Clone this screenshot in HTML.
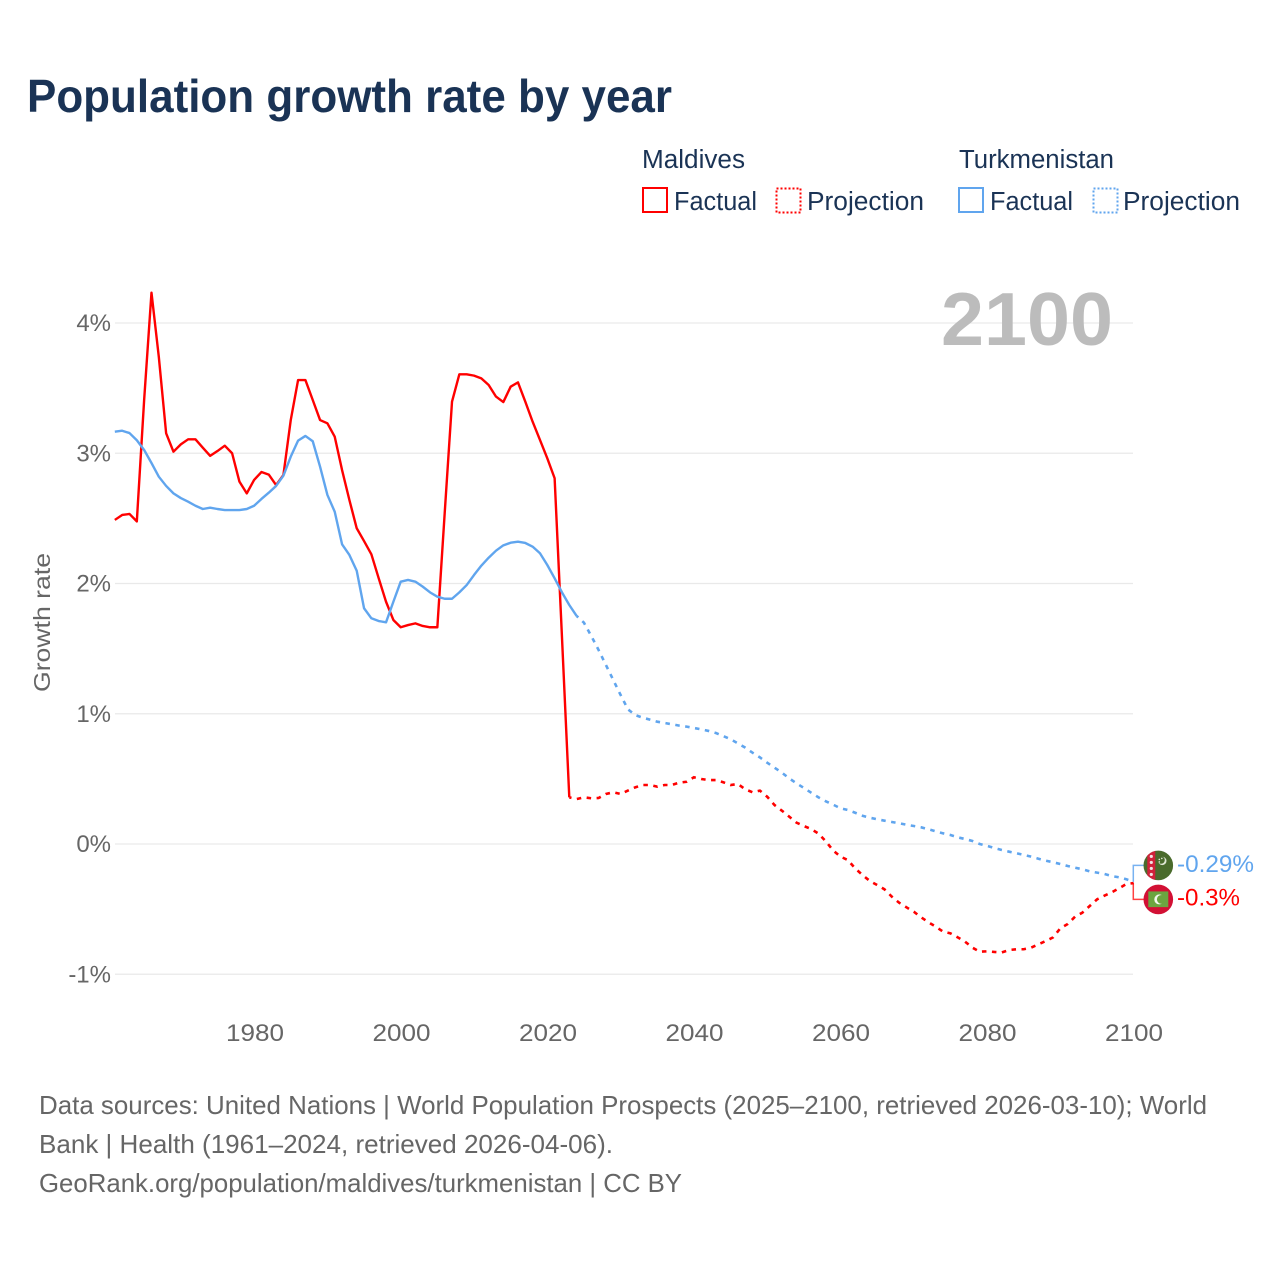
<!DOCTYPE html>
<html lang="en">
<head>
<meta charset="utf-8">
<title>Population growth rate by year</title>
<style>
html,body{margin:0;padding:0;background:#fff;width:1280px;height:1280px;overflow:hidden}
svg{display:block}
text{font-family:"Liberation Sans",sans-serif}
</style>
</head>
<body>
<svg id="chart" xmlns="http://www.w3.org/2000/svg" width="1280" height="1280" viewBox="0 0 1280 1280">
  <rect width="1280" height="1280" fill="#fff"/>
  <text x="27" y="112" font-size="46" font-weight="700" fill="#1a3355" textLength="645" lengthAdjust="spacingAndGlyphs">Population growth rate by year</text>

  <g font-size="25.5" fill="#1a3355">
    <text x="642" y="168" textLength="103" lengthAdjust="spacingAndGlyphs">Maldives</text>
    <text x="959" y="168" textLength="155" lengthAdjust="spacingAndGlyphs">Turkmenistan</text>
    <rect x="643" y="188" width="24" height="24" fill="none" stroke="#ff0000" stroke-width="2"/>
    <text x="674" y="210" textLength="83" lengthAdjust="spacingAndGlyphs">Factual</text>
    <rect x="776.5" y="188.5" width="24" height="24" fill="none" stroke="#ff0000" stroke-width="2" stroke-dasharray="2 2"/>
    <text x="807" y="210" textLength="117" lengthAdjust="spacingAndGlyphs">Projection</text>
    <rect x="959" y="188" width="24" height="24" fill="none" stroke="#60a5ee" stroke-width="2"/>
    <text x="990" y="210" textLength="83" lengthAdjust="spacingAndGlyphs">Factual</text>
    <rect x="1093.5" y="188.5" width="24" height="24" fill="none" stroke="#60a5ee" stroke-width="2" stroke-dasharray="2 2"/>
    <text x="1123" y="210" textLength="117" lengthAdjust="spacingAndGlyphs">Projection</text>
  </g>

  <g id="grid"></g>
  <text x="941" y="345" font-size="75" font-weight="700" fill="#bcbcbc" textLength="172" lengthAdjust="spacingAndGlyphs">2100</text>
  <g id="yticks" font-size="24" fill="#666"></g>
  <g id="xticks" font-size="24" fill="#666"></g>
  <text transform="translate(50,622.5) rotate(-90)" text-anchor="middle" font-size="23.5" fill="#666" textLength="139" lengthAdjust="spacingAndGlyphs">Growth rate</text>

  <g id="series"></g>
  <g id="connectors"></g>

  <g id="flag-tm">
    <defs><clipPath id="clip-tm"><circle cx="0" cy="0" r="14.8"/></clipPath></defs>
    <g clip-path="url(#clip-tm)">
      <rect x="-15" y="-15" width="30" height="30" fill="#4a6b2c"/>
      <rect x="-11" y="-15" width="8" height="30" fill="#d0213a"/>
      <circle cx="-7" cy="-9" r="1.6" fill="#f3e3e3"/>
      <circle cx="-7" cy="-3" r="1.6" fill="#f3e3e3"/>
      <circle cx="-7" cy="3" r="1.6" fill="#f3e3e3"/>
      <circle cx="-7" cy="9" r="1.6" fill="#f3e3e3"/>
    </g>
    <circle cx="4" cy="-4.5" r="4.2" fill="#dfe6d4"/>
    <circle cx="2.8" cy="-5.4" r="3.7" fill="#4a6b2c"/>
    <circle cx="1" cy="-6" r="0.8" fill="#e6ecdc"/>
    <circle cx="3.5" cy="-7" r="0.8" fill="#e6ecdc"/>
    <circle cx="1" cy="-3.5" r="0.8" fill="#e6ecdc"/>
  </g>
  <g id="flag-mv">
    <circle cx="0" cy="0" r="14.8" fill="#d21034"/>
    <rect x="-10" y="-8" width="20" height="15.7" fill="#6ca540"/>
    <circle cx="1" cy="0" r="5" fill="#f4f8ee"/>
    <circle cx="3" cy="0" r="4.4" fill="#6ca540"/>
  </g>
  <text id="label-tm" x="1177" font-size="24" fill="#60a5ee" textLength="77" lengthAdjust="spacingAndGlyphs"></text>
  <text id="label-mv" x="1177" font-size="24" fill="#ff0000" textLength="63" lengthAdjust="spacingAndGlyphs"></text>

  <g font-size="26" fill="#666">
    <text x="39" y="1114" textLength="1168" lengthAdjust="spacingAndGlyphs">Data sources: United Nations | World Population Prospects (2025–2100, retrieved 2026-03-10); World</text>
    <text x="39" y="1153" textLength="574" lengthAdjust="spacingAndGlyphs">Bank | Health (1961–2024, retrieved 2026-04-06).</text>
    <text x="39" y="1192" textLength="643" lengthAdjust="spacingAndGlyphs">GeoRank.org/population/maldives/turkmenistan | CC BY</text>
  </g>
</svg>

<script>
const factualStartYear = 1961;
const maldivesProjectionStartYear = 2023;
const turkmenistanProjectionStartYear = 2024;
const xTickYears = [1980, 2000, 2020, 2040, 2060, 2080, 2100];
const yTickValues = [-1, 0, 1, 2, 3, 4];
const maldivesFactual = [2.488,2.526,2.534,2.477,3.41,4.233,3.74,3.153,3.012,3.068,3.107,3.107,3.043,2.98,3.017,3.058,3.0,2.782,2.692,2.795,2.856,2.836,2.756,2.833,3.255,3.562,3.562,3.409,3.255,3.23,3.127,2.871,2.641,2.424,2.326,2.224,2.04,1.86,1.72,1.664,1.681,1.694,1.674,1.664,1.664,2.539,3.396,3.606,3.606,3.596,3.575,3.524,3.435,3.393,3.511,3.544,3.396,3.242,3.102,2.961,2.808,1.59,0.358];
const maldivesProjection = [0.358,0.345,0.358,0.351,0.353,0.384,0.397,0.384,0.41,0.435,0.453,0.453,0.44,0.453,0.453,0.471,0.478,0.512,0.499,0.491,0.491,0.474,0.453,0.461,0.42,0.397,0.41,0.363,0.299,0.256,0.21,0.164,0.138,0.115,0.08,0.02,-0.05,-0.097,-0.123,-0.187,-0.238,-0.284,-0.315,-0.348,-0.404,-0.451,-0.486,-0.52,-0.563,-0.601,-0.635,-0.673,-0.686,-0.717,-0.75,-0.796,-0.827,-0.824,-0.829,-0.832,-0.814,-0.808,-0.808,-0.796,-0.77,-0.745,-0.717,-0.647,-0.614,-0.558,-0.527,-0.476,-0.425,-0.397,-0.371,-0.34,-0.307,-0.3];
const turkmenistanFactual = [3.166,3.173,3.155,3.1,3.025,2.925,2.82,2.749,2.692,2.656,2.628,2.597,2.572,2.582,2.572,2.564,2.564,2.564,2.572,2.597,2.649,2.697,2.749,2.828,2.974,3.097,3.133,3.092,2.897,2.68,2.551,2.301,2.219,2.098,1.81,1.733,1.712,1.702,1.86,2.014,2.027,2.014,1.976,1.932,1.899,1.883,1.883,1.932,1.988,2.065,2.137,2.198,2.252,2.293,2.313,2.321,2.311,2.283,2.232,2.142,2.04,1.932,1.835,1.751];
const turkmenistanProjection = [1.751,1.699,1.597,1.489,1.374,1.259,1.144,1.034,0.99,0.97,0.955,0.939,0.929,0.919,0.909,0.901,0.891,0.88,0.868,0.852,0.829,0.804,0.773,0.74,0.701,0.665,0.624,0.586,0.548,0.504,0.466,0.43,0.394,0.358,0.328,0.302,0.274,0.261,0.24,0.217,0.202,0.19,0.179,0.169,0.159,0.148,0.138,0.128,0.113,0.097,0.082,0.069,0.051,0.038,0.023,0,-0.015,-0.031,-0.046,-0.059,-0.071,-0.084,-0.097,-0.113,-0.128,-0.14,-0.154,-0.169,-0.182,-0.194,-0.21,-0.22,-0.23,-0.246,-0.256,-0.271,-0.29];

const NS = 'http://www.w3.org/2000/svg';
const RED = '#ff0000';
const BLUE = '#60a5ee';
const xScale = function (year) { return 254.1 + (year - 1980) * 7.33; };
const xTickScale = function (year) { return 255 + (year - 1980) * 7.325; };
const yScale = function (v) { return 844 - v * 130.25; };

function linePath(startYear, values) {
  return values.map(function (v, i) {
    return (i ? 'L' : 'M') + xScale(startYear + i).toFixed(2) + ' ' + yScale(v).toFixed(2);
  }).join(' ');
}

const gridGroup = document.getElementById('grid');
const yTickGroup = document.getElementById('yticks');
yTickValues.forEach(function (v) {
  const line = document.createElementNS(NS, 'line');
  
  
  line.setAttribute('x1', 115);
  line.setAttribute('x2', 1133);
  line.setAttribute('y1', yScale(v));
  line.setAttribute('y2', yScale(v));
  line.setAttribute('stroke', '#e9e9e9');
  line.setAttribute('stroke-width', '1.2');
  gridGroup.appendChild(line);

  const label = document.createElementNS(NS, 'text');
  
  
  label.setAttribute('x', 111);
  label.setAttribute('y', yScale(v) + 8);
  label.setAttribute('text-anchor', 'end');
  label.textContent = v + '%';
  yTickGroup.appendChild(label);
});

const xTickGroup = document.getElementById('xticks');
xTickYears.forEach(function (year) {
  const label = document.createElementNS(NS, 'text');
  
  
  label.setAttribute('x', xTickScale(year));
  label.setAttribute('y', 1041);
  label.setAttribute('text-anchor', 'middle');
  label.setAttribute('textLength', '58');
  label.setAttribute('lengthAdjust', 'spacingAndGlyphs');
  label.textContent = year;
  xTickGroup.appendChild(label);
});

const seriesGroup = document.getElementById('series');

const tmFactualLine = document.createElementNS(NS, 'path');


tmFactualLine.setAttribute('d', linePath(factualStartYear, turkmenistanFactual));
tmFactualLine.setAttribute('fill', 'none');
tmFactualLine.setAttribute('stroke', BLUE);
tmFactualLine.setAttribute('stroke-width', '2.4');
tmFactualLine.setAttribute('stroke-linejoin', 'round');

const tmProjectionLine = document.createElementNS(NS, 'path');


tmProjectionLine.setAttribute('d', linePath(turkmenistanProjectionStartYear, turkmenistanProjection));
tmProjectionLine.setAttribute('fill', 'none');
tmProjectionLine.setAttribute('stroke', BLUE);
tmProjectionLine.setAttribute('stroke-width', '2.6');
tmProjectionLine.setAttribute('stroke-dasharray', '4.5 5.5');
tmProjectionLine.setAttribute('stroke-dashoffset', '2.25');

const mvFactualLine = document.createElementNS(NS, 'path');


mvFactualLine.setAttribute('d', linePath(factualStartYear, maldivesFactual));
mvFactualLine.setAttribute('fill', 'none');
mvFactualLine.setAttribute('stroke', RED);
mvFactualLine.setAttribute('stroke-width', '2.4');
mvFactualLine.setAttribute('stroke-linejoin', 'round');

const mvProjectionLine = document.createElementNS(NS, 'path');


mvProjectionLine.setAttribute('d', linePath(maldivesProjectionStartYear, maldivesProjection));
mvProjectionLine.setAttribute('fill', 'none');
mvProjectionLine.setAttribute('stroke', RED);
mvProjectionLine.setAttribute('stroke-width', '2.6');
mvProjectionLine.setAttribute('stroke-dasharray', '4.5 5.5');
mvProjectionLine.setAttribute('stroke-dashoffset', '2.25');

seriesGroup.appendChild(mvFactualLine);
seriesGroup.appendChild(mvProjectionLine);
seriesGroup.appendChild(tmFactualLine);
seriesGroup.appendChild(tmProjectionLine);

const tmEnd = turkmenistanProjection[turkmenistanProjection.length - 1];
const mvEnd = maldivesProjection[maldivesProjection.length - 1];
const midY = (yScale(tmEnd) + yScale(mvEnd)) / 2;
const tmLabelY = midY - 17;
const mvLabelY = midY + 17;

const connectorGroup = document.getElementById('connectors');

const tmConnector = document.createElementNS(NS, 'path');


tmConnector.setAttribute('d', 'M1133.3 ' + yScale(tmEnd) + ' V' + tmLabelY + ' H1144');
tmConnector.setAttribute('fill', 'none');
tmConnector.setAttribute('stroke', BLUE);
tmConnector.setAttribute('stroke-opacity', '0.85');
tmConnector.setAttribute('stroke-width', '1.5');
connectorGroup.appendChild(tmConnector);

const mvConnector = document.createElementNS(NS, 'path');


mvConnector.setAttribute('d', 'M1133.3 ' + yScale(mvEnd) + ' V' + mvLabelY + ' H1144');
mvConnector.setAttribute('fill', 'none');
mvConnector.setAttribute('stroke', RED);
mvConnector.setAttribute('stroke-opacity', '0.75');
mvConnector.setAttribute('stroke-width', '1.5');
connectorGroup.appendChild(mvConnector);

document.getElementById('flag-tm').setAttribute('transform', 'translate(1158.3,' + tmLabelY + ')');
document.getElementById('flag-mv').setAttribute('transform', 'translate(1158.3,' + mvLabelY + ')');

const tmLabel = document.getElementById('label-tm');
tmLabel.setAttribute('y', tmLabelY + 6.5);
tmLabel.textContent = tmEnd + '%';
const mvLabel = document.getElementById('label-mv');
mvLabel.setAttribute('y', mvLabelY + 6);
mvLabel.textContent = mvEnd + '%';
</script>
</body>
</html>
